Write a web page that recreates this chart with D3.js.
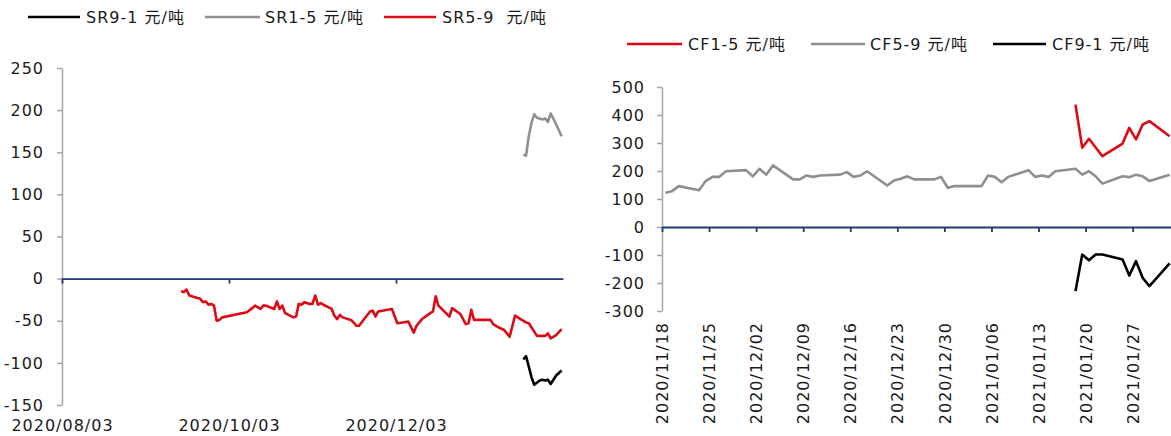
<!DOCTYPE html>
<html><head><meta charset="utf-8">
<script src="https://cdn.jsdelivr.net/npm/d3@7/dist/d3.min.js"></script>
<style>
html,body{margin:0;padding:0;background:#fff;}
svg text{font-family:"DejaVu Sans","Noto Sans CJK SC",sans-serif;fill:#1a1a1a;}
</style></head>
<body><svg id="c" width="1171" height="436"></svg>
<script>
// ---------- Left chart (SR) ----------
const srRedDates = ["2020-09-15","2020-09-16","2020-09-17","2020-09-18","2020-09-21","2020-09-22","2020-09-23","2020-09-24","2020-09-25","2020-09-26","2020-09-27","2020-09-28","2020-09-29","2020-09-30",
"2020-10-09","2020-10-11","2020-10-12","2020-10-14","2020-10-15","2020-10-16","2020-10-19","2020-10-20","2020-10-21","2020-10-22","2020-10-23","2020-10-26","2020-10-27","2020-10-28","2020-10-29","2020-10-30",
"2020-11-01","2020-11-02","2020-11-03","2020-11-04","2020-11-05","2020-11-06","2020-11-09","2020-11-10","2020-11-11","2020-11-12","2020-11-13","2020-11-16","2020-11-17","2020-11-18","2020-11-19","2020-11-23","2020-11-24","2020-11-25","2020-11-26",
"2020-12-01","2020-12-03","2020-12-05","2020-12-07","2020-12-09","2020-12-10","2020-12-12","2020-12-15","2020-12-16","2020-12-17","2020-12-18","2020-12-22","2020-12-23","2020-12-26","2020-12-28","2020-12-29","2020-12-30","2020-12-31",
"2021-01-04","2021-01-05","2021-01-06","2021-01-07","2021-01-09","2021-01-11","2021-01-12","2021-01-13","2021-01-15","2021-01-17","2021-01-19","2021-01-20","2021-01-23","2021-01-24","2021-01-26","2021-01-27","2021-01-28","2021-01-30","2021-02-01"];
const srRedValues = [-15,-16,-13,-20,-23,-24,-28,-27,-31,-30,-32,-50,-49,-46,
-40,-35,-32,-36,-32,-32,-36,-27,-36,-32,-41,-46,-45,-30,-31,-28,
-30,-30,-20,-31,-29,-31,-36,-44,-48,-43,-46,-49,-52,-56,-56,-39,-38,-45,-39,
-36,-53,-52,-51,-64,-56,-48,-41,-39,-21,-32,-45,-35,-42,-54,-53,-37,-49,
-49,-49,-49,-54,-58,-61,-65,-69,-44,-48,-52,-53,-68,-68,-68,-65,-71,-67,-60];
const srGrayDates = ["2021-01-18","2021-01-19","2021-01-20","2021-01-21","2021-01-22","2021-01-23","2021-01-25","2021-01-26","2021-01-27","2021-01-28","2021-01-30","2021-02-01"];
const srGrayValues = [147,146,169,185,195,191,189,190,186,196,183,169];
const srBlackDates = ["2021-01-18","2021-01-19","2021-01-21","2021-01-22","2021-01-24","2021-01-25","2021-01-26","2021-01-27","2021-01-28","2021-01-30","2021-02-01"];
const srBlackValues = [-96,-92,-117,-126,-121,-120,-121,-120,-125,-115,-109];
const srYTicks = [250,200,150,100,50,0,-50,-100,-150];
const srXTicks = ["2020-08-03","2020-10-03","2020-12-03"];
const srLegend = ["SR9-1 元/吨","SR1-5 元/吨","SR5-9  元/吨"];

// ---------- Right chart (CF) ----------
const cfGrayDates = ["2020-11-18","2020-11-19","2020-11-20","2020-11-23","2020-11-24","2020-11-25","2020-11-26","2020-11-27","2020-11-30",
"2020-12-01","2020-12-02","2020-12-03","2020-12-04","2020-12-07","2020-12-08","2020-12-09","2020-12-10","2020-12-11","2020-12-14","2020-12-15","2020-12-16","2020-12-17","2020-12-18","2020-12-21","2020-12-22","2020-12-23","2020-12-24","2020-12-25","2020-12-28","2020-12-29","2020-12-30","2020-12-31",
"2021-01-04","2021-01-05","2021-01-06","2021-01-07","2021-01-08","2021-01-11","2021-01-12","2021-01-13","2021-01-14","2021-01-15","2021-01-18","2021-01-19","2021-01-20","2021-01-21","2021-01-22","2021-01-25","2021-01-26","2021-01-27","2021-01-28","2021-01-29","2021-02-01"];
const cfGrayValues = [122,128,146,131,164,179,179,199,203,
181,208,187,220,170,170,184,179,184,187,196,179,184,199,148,166,172,181,170,170,179,140,146,
146,184,179,160,179,203,179,184,179,199,208,187,199,181,155,181,178,187,181,164,187];
const cfRedDates = ["2021-01-18","2021-01-19","2021-01-20","2021-01-21","2021-01-22","2021-01-25","2021-01-26","2021-01-27","2021-01-28","2021-01-29","2021-02-01"];
const cfRedValues = [437,283,315,284,253,298,354,313,366,378,324];
const cfBlackDates = cfRedDates;
const cfBlackValues = [-229,-98,-119,-98,-98,-116,-173,-122,-182,-211,-130];
const cfYTicks = [500,400,300,200,100,0,-100,-200,-300];
const cfXTicks = ["2020-11-18","2020-11-25","2020-12-02","2020-12-09","2020-12-16","2020-12-23","2020-12-30","2021-01-06","2021-01-13","2021-01-20","2021-01-27"];
const cfLegend = ["CF1-5 元/吨","CF5-9 元/吨","CF9-1 元/吨"];

const RED = "#dc0a14", GRAY = "#8f8f8f", BLACK = "#000000", NAVY = "#1f3a6e", AXGRAY = "#a6a6a6";

const parse = d3.timeParse("%Y-%m-%d");
const mid = s => d3.timeHour.offset(parse(s), 12);
const fmtDate = d3.timeFormat("%Y/%m/%d");
const svg = d3.select("#c");
const FS = 16, LS = "1px";

function zip(dates, vals){ return dates.map((d,i)=>({x:mid(d), y:vals[i]})); }

function drawChart(cfg){
  const g = svg.append("g");
  const x = d3.scaleTime().domain([parse(cfg.x0), parse(cfg.x1)]).range(cfg.xr);
  const y = d3.scaleLinear().domain(cfg.yd).range(cfg.yr);
  // y axis
  const ya = g.append("g").attr("transform",`translate(${cfg.xr[0]},0)`)
    .call(d3.axisLeft(y).tickValues(cfg.yTicks).tickSize(5).tickSizeOuter(0).tickPadding(cfg.yPad).tickFormat(d=>String(d)));
  ya.select(".domain").attr("stroke",AXGRAY).attr("stroke-width",1.5);
  ya.selectAll(".tick line").attr("stroke",AXGRAY).attr("stroke-width",1.5);
  ya.selectAll("text").attr("font-size",FS).attr("letter-spacing",LS).attr("fill","#1a1a1a");
  // x axis (zero line)
  const xa = g.append("g").attr("transform",`translate(0,${y(0)})`)
    .call(d3.axisBottom(x).tickValues(cfg.xTicks.map(parse)).tickSize(5).tickSizeOuter(0).tickFormat(fmtDate).tickPadding(cfg.xPad));
  xa.select(".domain").attr("stroke",NAVY).attr("stroke-width",1.8);
  xa.selectAll(".tick line").attr("stroke",NAVY).attr("stroke-width",1.8);
  xa.selectAll("text").attr("font-size",FS).attr("letter-spacing",LS).attr("fill","#1a1a1a");
  if(cfg.rotate){
    xa.selectAll(".tick text").attr("transform",`translate(0,${cfg.rotY - y(0)}) rotate(-90)`)
      .attr("y",0).attr("x",0).attr("dy","0.35em").attr("text-anchor","end");
  }
  // lines
  const line = d3.line().x(d=>x(d.x)).y(d=>y(d.y));
  cfg.series.forEach(s=>{
    g.append("path").datum(zip(s.dates,s.vals)).attr("d",line)
      .attr("fill","none").attr("stroke",s.color).attr("stroke-width",2.6).attr("stroke-linejoin","round");
  });
  // legend
  cfg.legend.forEach(l=>{
    g.append("line").attr("x1",l.x1).attr("x2",l.x2).attr("y1",cfg.legY).attr("y2",cfg.legY)
      .attr("stroke",l.color).attr("stroke-width",2.6);
    g.append("text").attr("x",l.tx).attr("y",cfg.legY).attr("dy","0.35em").attr("font-size",FS)
      .attr("letter-spacing",LS).style("white-space","pre").text(l.label);
  });
}

drawChart({
  x0:"2020-08-03", x1:"2021-02-02", xr:[62,563], yd:[-150,250], yr:[405,68],
  yTicks:srYTicks, yPad:13, xTicks:srXTicks, xPad:136, rotate:false,
  series:[
    {dates:srRedDates, vals:srRedValues, color:RED},
    {dates:srGrayDates, vals:srGrayValues, color:GRAY},
    {dates:srBlackDates, vals:srBlackValues, color:BLACK}
  ],
  legY:17,
  legend:[
    {x1:28,x2:80,tx:86,color:BLACK,label:srLegend[0]},
    {x1:205,x2:260,tx:265,color:GRAY,label:srLegend[1]},
    {x1:384,x2:436,tx:442,color:RED,label:srLegend[2]}
  ]
});

drawChart({
  x0:"2020-11-18", x1:"2021-02-02", xr:[662,1173], yd:[-300,500], yr:[311,87],
  yTicks:cfYTicks, yPad:12, xTicks:cfXTicks, xPad:10, rotate:true, rotY:322,
  series:[
    {dates:cfGrayDates, vals:cfGrayValues, color:GRAY},
    {dates:cfRedDates, vals:cfRedValues, color:RED},
    {dates:cfBlackDates, vals:cfBlackValues, color:BLACK}
  ],
  legY:44,
  legend:[
    {x1:627,x2:682,tx:688,color:RED,label:cfLegend[0]},
    {x1:811,x2:865,tx:870,color:GRAY,label:cfLegend[1]},
    {x1:993,x2:1046,tx:1052,color:BLACK,label:cfLegend[2]}
  ]
});
</script></body></html>
